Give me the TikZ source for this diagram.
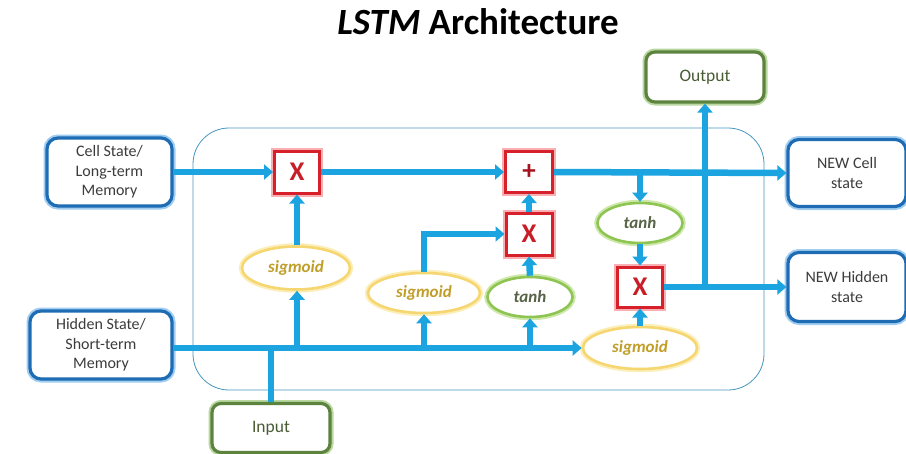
\documentclass[tikz,border=0pt]{standalone}
\usepackage{fontspec}
\setmainfont{Carlito}
\usetikzlibrary{arrows.meta,calc,shapes.geometric}
\definecolor{flow}{RGB}{28,164,224}
\definecolor{bbord}{RGB}{30,108,180}
\definecolor{bglow}{RGB}{160,205,240}
\definecolor{gbord}{RGB}{92,132,62}
\definecolor{gglow}{RGB}{185,215,160}
\definecolor{rbord}{RGB}{214,32,42}
\definecolor{rglow}{RGB}{250,175,178}
\definecolor{ybord}{RGB}{246,214,112}
\definecolor{yglow}{RGB}{252,238,185}
\definecolor{ytext}{RGB}{192,158,40}
\definecolor{tbord}{RGB}{142,196,82}
\definecolor{tglow}{RGB}{205,232,170}
\definecolor{ttext}{RGB}{88,100,72}
\definecolor{cellline}{RGB}{70,150,190}
\definecolor{dtext}{RGB}{60,60,60}
\definecolor{gtext}{RGB}{72,92,52}
\definecolor{xtext}{RGB}{200,30,40}
\definecolor{ptext}{RGB}{165,20,30}
\tikzset{
  bluebox/.style={rectangle, rounded corners=11pt, fill=white, draw=bbord, line width=3.2pt,
    preaction={draw=bglow, line width=7pt}, align=center, text=dtext,
    font=\fontsize{16}{19.5}\selectfont, inner sep=0pt},
  greenbox/.style={rectangle, rounded corners=9pt, fill=white, draw=gbord, line width=3.2pt,
    preaction={draw=gglow, line width=7pt}, align=center, text=gtext,
    font=\fontsize{17.5}{20}\selectfont, inner sep=0pt},
  opbox/.style={rectangle, fill=white, draw=rbord, line width=3pt,
    preaction={draw=rglow, line width=7pt}, inner sep=0pt,
    font=\bfseries\fontsize{27}{27}\selectfont},
  sigell/.style={ellipse, fill=white, draw=ybord, line width=2.6pt,
    preaction={draw=yglow, line width=6.5pt}, inner sep=0pt, text=ytext,
    font=\bfseries\itshape\fontsize{17}{18}\selectfont},
  tanhell/.style={ellipse, fill=white, draw=tbord, line width=2.6pt,
    preaction={draw=tglow, line width=6.5pt}, inner sep=0pt, text=ttext,
    font=\bfseries\itshape\fontsize{17}{18}\selectfont},
  flowline/.style={draw=flow, line width=6.5pt},
  flowarrow/.style={flowline, -{Triangle[width=15pt,length=9pt]}},
}
\begin{document}
\begin{tikzpicture}[x=1pt,y=-1pt]
\useasboundingbox (0,0) rectangle (906,453);
% outer cell box
\draw[cellline, line width=0.8pt, rounded corners=36pt] (193,128) rectangle (764,390);
% title
\node (title) at (478,22) {\fontsize{37}{40}\selectfont\bfseries\textit{LSTM} Architecture};
% boxes
\node[bluebox, minimum width=125pt, minimum height=68pt] (cell) at (109.5,172) {Cell State/\\Long-term\\Memory};
\node[bluebox, minimum width=142pt, minimum height=68pt] (hidden) at (101,345) {Hidden State/\\Short-term\\Memory};
\node[bluebox, minimum width=118pt, minimum height=67pt] (newcell) at (847,173) {NEW Cell\\state};
\node[bluebox, minimum width=118pt, minimum height=69pt] (newhid) at (847,287) {NEW Hidden\\state};
\node[greenbox, minimum width=118pt, minimum height=50pt] (output) at (705,77) {Output};
\node[greenbox, minimum width=118pt, minimum height=49pt] (input) at (271,428) {Input};
% operators
\node[opbox, minimum width=45pt, minimum height=42pt, text=xtext] (x1) at (297,172) {X};
\node[opbox, minimum width=47pt, minimum height=41pt, text=ptext] (plus) at (529,172) {+};
\node[opbox, minimum width=46pt, minimum height=42pt, text=xtext] (x2) at (529,234) {X};
\node[opbox, minimum width=45pt, minimum height=40pt, text=xtext] (x3) at (640,287) {X};
% gates
\node[sigell, minimum width=108pt, minimum height=43pt] (sig1) at (296,268) {sigmoid};
\node[sigell, minimum width=112pt, minimum height=40pt] (sig2) at (424,293) {sigmoid};
\node[tanhell, minimum width=85pt, minimum height=40pt] (tanh1) at (530,297) {tanh};
\node[sigell, minimum width=114pt, minimum height=42pt] (sig3) at (640,348) {sigmoid};
\node[tanhell, minimum width=85pt, minimum height=40pt] (tanh2) at (640,223) {tanh};
% helper coordinates
\coordinate (hstart) at (hidden.east |- sig3.west);
\coordinate (hout) at (705,287);
% cell state line
\draw[flowarrow] (cell.east) -- (x1.west);
\draw[flowarrow] (x1.east) -- (plus.west);
\draw[flowarrow] (plus.east) -- (newcell.west);
\draw[flowarrow] (tanh2.north |- plus.east) -- (tanh2.north);
\draw[flowarrow] (tanh2.south) -- (x3.north);
\draw[flowarrow] (sig3.north) -- (x3.south);
\draw[flowarrow] (x3.east) -- (newhid.west);
\draw[flowarrow] (hout) -- (output.south);
% hidden line
\draw[flowarrow] (hstart) -- (sig3.west);
\draw[flowline] (input.north) -- (input.north |- hstart);
\draw[flowarrow] (x1.south |- hstart) -- (x1.south |- sig1.south);
\draw[flowarrow] (sig2.south |- hstart) -- (sig2.south);
\draw[flowarrow] (tanh1.south |- hstart) -- (tanh1.south);
\draw[flowarrow] (x1.south |- sig1.north) -- (x1.south);
\draw[flowarrow] (tanh1.north) -- (x2.south);
\draw[flowarrow] (x2.north) -- (plus.south);
\draw[flowarrow] (sig2.north) |- (x2.west);
\end{tikzpicture}
\end{document}
